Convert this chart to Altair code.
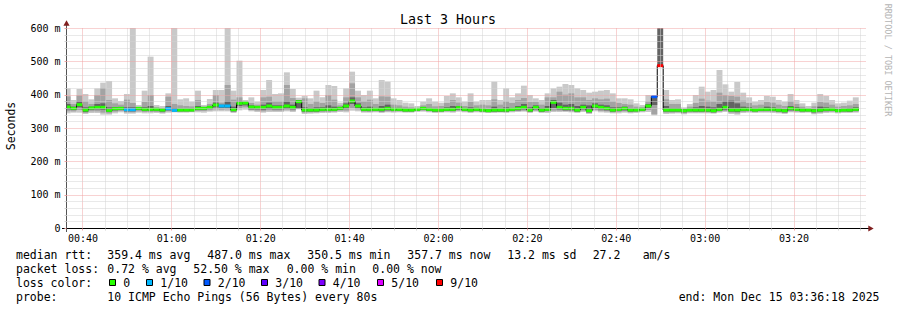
import altair as alt
import pandas as pd

MONO = "DejaVu Sans Mono"

# ---- data (ms), one value per 80 s step, first step starts 00:36:00 ----
FIRST_START_MIN = 36.0
STEP_MIN = 80 / 60

med = [363,359,370,354,360,362,362,353,358,359,
       355,355,359,356,356,356,354,358,353,354,
       354,354,359,359,362,369,366,366,355,374,
       375,363,362,362,366,362,362,366,362,379,
       354,354,354,356,356,356,359,366,381,366,
       356,356,356,356,359,356,356,354,354,356,
       359,356,354,354,356,356,361,356,354,356,
       354,352,354,354,354,356,359,362,354,362,
       354,356,377,362,359,359,354,362,352,366,
       362,359,354,356,359,354,354,356,366,394,
       487,354,354,354,352,354,354,354,354,352,
       356,362,354,354,356,356,354,356,356,356,
       354,352,359,356,354,354,352,354,356,356,
       352,354,354,356]

hi = [419,384,417,402,386,419,436,441,389,381,
      402,610,369,412,514,369,366,404,610,386,
      389,379,412,369,387,414,414,610,412,502,
      384,392,379,414,444,402,404,467,417,391,
      396,389,412,392,429,426,376,419,469,412,
      399,412,389,444,439,389,384,376,374,366,
      379,389,379,376,396,404,392,379,404,379,
      384,384,439,384,419,392,404,427,399,389,
      384,404,419,424,432,429,419,414,406,409,
      412,414,404,389,389,386,374,369,399,396,
      487,414,384,386,362,372,399,424,409,414,
      474,431,409,438,406,392,379,384,396,394,
      384,379,402,384,374,366,376,402,396,384,
      374,376,382,392]

up2 = [395,372,398,380,372,399,420,384,374,370,
       385,375,362,378,399,362,360,394,372,368,
       366,365,384,364,372,399,376,429,385,392,
       380,375,370,392,394,380,380,429,390,384,
       389,372,380,375,399,385,368,392,434,392,
       380,385,372,395,394,370,368,364,362,360,
       368,372,365,366,375,384,376,366,378,368,
       370,368,386,370,380,375,384,390,378,378,
       370,392,392,409,400,404,392,392,384,389,
       386,388,380,375,372,370,364,362,380,394,
       487,386,372,372,358,364,375,388,382,380,
       406,399,396,394,382,375,368,370,378,376,
       370,366,380,372,364,360,365,378,376,370,
       364,366,368,372]

up3 = [372,364,380,362,364,372,374,362,363,363,
       362,362,362,362,366,360,358,366,360,358,
       358,358,366,362,366,376,370,380,364,380,
       378,368,366,370,376,368,368,380,370,384,
       362,360,362,362,368,364,362,374,392,374,
       362,364,360,366,370,360,360,358,358,358,
       362,360,358,358,362,366,366,360,362,360,
       358,356,364,358,362,360,366,372,362,368,
       360,366,384,376,370,372,366,370,368,374,
       370,368,362,362,364,358,358,358,372,394,
       640,366,360,360,356,358,362,366,364,362,
       372,380,382,374,364,362,358,360,364,362,
       358,356,366,362,358,357,357,364,362,360,
       357,358,360,362]

dn3 = [356,354,362,348,355,356,355,348,353,355,
       350,350,354,351,351,351,349,353,349,350,
       350,350,354,354,357,362,360,360,350,366,
       368,356,356,355,358,356,356,358,356,359,
       349,349,349,351,351,351,354,359,372,360,
       351,351,351,350,353,351,351,350,350,352,
       354,351,349,350,351,351,355,351,350,351,
       350,348,349,349,349,351,353,356,349,356,
       349,351,360,356,353,353,349,356,347,360,
       356,353,349,351,353,349,350,351,360,369,
       487,349,349,349,347,350,349,349,349,347,
       351,355,349,348,351,351,350,351,351,351,
       349,347,353,351,350,350,347,349,351,351,
       348,350,349,351]

dn2 = [350,350,354,345,350,350,346,344,349,351,
       347,347,350,348,348,348,346,350,350,349,
       349,350,351,351,353,356,355,356,348,360,
       362,354,352,350,353,352,352,355,352,357,
       346,347,347,348,348,349,352,352,360,356,
       349,348,350,348,350,349,350,348,348,351,
       352,350,348,348,350,349,352,350,348,350,
       348,347,348,348,348,350,351,352,348,352,
       348,349,352,352,351,350,348,352,345,354,
       351,350,347,348,350,347,348,350,354,341,
       487,346,346,347,344,347,347,347,347,346,
       349,351,346,344,348,349,348,349,349,348,
       347,345,350,349,348,349,344,346,348,349,
       347,348,348,349]

lo = [344,346,346,342,345,345,340,340,344,347,
      343,343,346,344,344,345,343,346,347,346,
      346,347,347,346,349,350,350,350,345,353,
      355,350,348,346,348,348,348,350,348,356,
      342,343,344,345,345,346,348,347,352,350,
      346,346,347,345,347,346,347,346,346,348,
      349,347,345,346,347,346,349,347,345,347,
      346,345,345,346,345,347,348,349,345,349,
      345,345,348,348,348,347,345,348,342,350,
      347,346,344,344,346,344,345,347,348,338,
      487,342,343,344,341,344,344,344,344,343,
      346,348,342,340,345,346,345,346,346,345,
      344,342,347,346,345,346,341,343,345,346,
      344,345,345,346]

loss_exceptions = {10: "1/10", 11: "1/10", 17: "1/10", 18: "1/10",
                   26: "1/10", 27: "1/10", 99: "2/10", 100: "9/10"}

loss_levels = ["0", "1/10", "2/10", "3/10", "4/10", "5/10", "9/10"]
loss_colors = ["#26ff00", "#00b8ff", "#0059ff", "#5e00ff", "#7e00ff", "#dd00ff", "#ff0000"]

title_text = "Last 3 Hours"
y_title = "Seconds"
line1 = [("median rtt:", 16), ("359.4 ms avg", 107.3), ("487.0 ms max", 207.3),
         ("350.5 ms min", 307.3), ("357.7 ms now", 407.3), ("13.2 ms sd", 507.3),
         ("27.2", 592.7), ("am/s", 642.7)]
line2 = [("packet loss:", 16), ("0.72 % avg", 107.3), ("52.50 % max", 193.3),
         ("0.00 % min", 286.7), ("0.00 % now", 372.3)]
line3_head = ("loss color:", 16)
box_x = [109, 146, 203.5, 261, 318.5, 377, 436]
line4 = [("probe:", 16), ("10 ICMP Echo Pings (56 Bytes) every 80s", 107.3),
         ("end: Mon Dec 15 03:36:18 2025", 678.7)]
watermark = "RRDTOOL / TOBI OETIKER"

# ---- frames ----
n = len(med)
starts = [FIRST_START_MIN + k * STEP_MIN for k in range(n)]
ends = [s + STEP_MIN for s in starts]
df = pd.DataFrame({
    "t0": starts, "t1": ends, "med": med, "hi": hi, "up2": up2, "up3": up3,
    "dn3": dn3, "dn2": dn2, "lo": lo,
    "loss": [loss_exceptions.get(k, "0") for k in range(n)],
})
step_df = pd.DataFrame({"t": starts + [ends[-1]], "m": med + [med[-1]]})

# ---- layout ----
PL, PT, W, H = 66, 28, 800, 200
MAJ = "#f0a4a4"
MIN = "#d2d2d2"

x_axis = alt.Axis(
    values=list(range(40, 216, 5)),
    labelExpr="(datum.value - 40) % 20 === 0 ? (floor(datum.value/60) < 10 ? '0' : '') + floor(datum.value/60) + ':' + (datum.value % 60 < 10 ? '0' : '') + (datum.value % 60) : ''",
    labelFont=MONO, labelFontSize=10, labelColor="black", labelAngle=0,
    labelFlush=False, labelOverlap=False, labelPadding=3,
    tickSize=2,
    tickColor={"condition": {"test": "(datum.value - 40) % 20 === 0", "value": MAJ}, "value": MIN},
    domain=False, grid=True, gridDash=[1, 1], gridWidth=1,
    gridColor={"condition": {"test": "(datum.value - 40) % 20 === 0", "value": MAJ}, "value": MIN},
    gridOpacity=1, zindex=1, title=None,
)
y_axis = alt.Axis(
    values=list(range(0, 601, 20)),
    labelExpr="datum.value % 100 === 0 ? (datum.value === 0 ? '0\u00a0' : datum.value + ' m') : ''",
    labelFont=MONO, labelFontSize=10, labelColor="black",
    labelOverlap=False, labelPadding=4, labelBound=False,
    tickSize=2,
    tickColor={"condition": {"test": "datum.value % 100 === 0", "value": MAJ}, "value": MIN},
    domain=False, grid=True, gridDash=[1, 1], gridWidth=1,
    gridColor={"condition": {"test": "datum.value % 100 === 0", "value": MAJ}, "value": MIN},
    gridOpacity={"condition": {"test": "datum.value === 0", "value": 0}, "value": 1},
    zindex=1, title=None,
)
xs = alt.Scale(domain=[36.3, 216.3], nice=False, zero=False)
ys = alt.Scale(domain=[0, 600], nice=False)


def X(f):
    return alt.X(f"{f}:Q", scale=xs, axis=x_axis, title=None)


def Y(f):
    return alt.Y(f"{f}:Q", scale=ys, axis=y_axis, title=None)


base = alt.Chart(df)
light = base.mark_rect(color="#c9c9c9", clip=True).encode(x=X("t0"), x2="t1", y=Y("lo"), y2="hi")
medium = base.mark_rect(color="#a3a3a3", clip=True).encode(x=X("t0"), x2="t1", y=Y("dn2"), y2="up2")
dark = base.mark_rect(color="#636363", clip=True).encode(x=X("t0"), x2="t1", y=Y("dn3"), y2="up3")
stepline = alt.Chart(step_df).mark_line(interpolate="step-after", color="black", strokeWidth=1, clip=True).encode(
    x=X("t"), y=Y("m"))
medrule = base.mark_rule(strokeWidth=3, clip=True).encode(
    x=X("t0"), x2="t1", y=Y("med"),
    color=alt.Color("loss:N", scale=alt.Scale(domain=loss_levels, range=loss_colors), legend=None))


def txt(s, x, y, size=11.5, align="left", color="black", angle=0, baseline="alphabetic"):
    return alt.Chart(alt.Data(values=[{"t": s}])).mark_text(
        align=align, baseline=baseline, font=MONO, fontSize=size, color=color, angle=angle
    ).encode(x=alt.value(x - PL), y=alt.value(y - PT), text="t:N")


one = alt.Data(values=[{"a": 1}])
layers = [light, medium, dark, stepline, medrule]

# axis lines and arrows
layers.append(alt.Chart(one).mark_rule(color="#555555", strokeWidth=1).encode(
    x=alt.value(0.5), y=alt.value(-3), y2=alt.value(H + 4)))
layers.append(alt.Chart(one).mark_rule(color="black", strokeWidth=1).encode(
    x=alt.value(-4), x2=alt.value(W + 3), y=alt.value(H + 0.5)))
layers.append(alt.Chart(one).mark_point(shape="triangle-up", filled=True, size=38, color="#801f1f", opacity=1).encode(
    x=alt.value(0.5), y=alt.value(-5)))
layers.append(alt.Chart(one).mark_point(shape="triangle-right", filled=True, size=38, color="#801f1f", opacity=1).encode(
    x=alt.value(W + 5), y=alt.value(H + 0.5)))

# texts
layers.append(txt(title_text, 448, 23.5, size=13.3, align="center"))
layers.append(txt(y_title, 15.3, 126, angle=270, align="center"))
layers.append(txt(watermark, 885, 60, size=8.5, align="center", angle=90, color="#b4b4b4"))
for s, x in line1:
    layers.append(txt(s.replace(" ", "\u00a0"), x, 258.5))
for s, x in line2:
    layers.append(txt(s.replace(" ", "\u00a0"), x, 272.5))
layers.append(txt(line3_head[0].replace(" ", "\u00a0"), line3_head[1], 286.5))
for bx, lvl, col in zip(box_x, loss_levels, loss_colors):
    layers.append(alt.Chart(one).mark_rect(fill=col, stroke="black", strokeWidth=1).encode(
        x=alt.value(bx + 0.5 - PL), x2=alt.value(bx + 6.5 - PL),
        y=alt.value(279.5 - PT), y2=alt.value(285.5 - PT)))
    layers.append(txt(lvl, bx + 14.3, 286.5))
for s, x in line4:
    layers.append(txt(s.replace(" ", "\u00a0"), x, 300.5))

chart = alt.layer(*layers).properties(
    width=W, height=H,
    padding={"left": PL, "top": PT, "right": 897 - PL - W, "bottom": 310 - PT - H},
    autosize=alt.AutoSizeParams(type="none"),
    background="white",
).configure_view(stroke=None)

chart.save("out.html", embed_options={"renderer": "svg", "actions": False})
